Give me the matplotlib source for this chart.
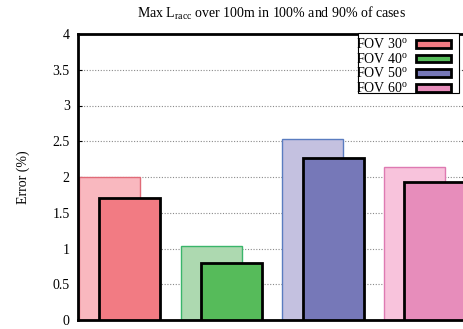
import matplotlib.pyplot as plt
from matplotlib.patches import Rectangle
import numpy as np

plt.rcParams['font.family'] = ['Liberation Serif', 'DejaVu Serif']
plt.rcParams['mathtext.fontset'] = 'custom'
plt.rcParams['mathtext.rm'] = 'Liberation Serif'

fov = ['FOV 30$^{\\rm o}$', 'FOV 40$^{\\rm o}$', 'FOV 50$^{\\rm o}$', 'FOV 60$^{\\rm o}$']
err100 = [2.00, 1.03, 2.53, 2.14]
err90 = [1.71, 0.80, 2.27, 1.93]

front_col = ['#f27b83', '#56bb5a', '#7678b8', '#e78dbb']
back_col = ['#f9b8bf', '#add9b0', '#c4c1e0', '#f8c3dc']
back_edge = ['#e06b78', '#3ab56a', '#5a7cc0', '#de7ab2']

fig = plt.figure(figsize=(4.64, 3.29), dpi=100)
ax = fig.add_axes([78/464, 9/329, 388/464, 286/329])

x = np.arange(len(fov))
w = 0.6
ax.bar(x - 0.3, err100, width=w, align='edge', color=back_col,
       edgecolor=back_edge, linewidth=1, zorder=2)
bars = ax.bar(x - 0.1, err90, width=w, align='edge', color=front_col,
              edgecolor='black', linewidth=2, zorder=3)

ax.set_xlim(-0.31, 3.505)
ax.set_ylim(0, 4)
ax.set_yticks(np.arange(0, 4.01, 0.5))
ax.set_yticklabels(['0', '0.5', '1', '1.5', '2', '2.5', '3', '3.5', '4'])
ax.set_xticks([])
ax.tick_params(axis='y', direction='in', length=3, right=True, labelsize=10, pad=6)
ax.yaxis.grid(True, linestyle=(0, (1, 1.5)), color='#8a8a8a', linewidth=0.8, zorder=0)
ax.set_axisbelow(True)
for s in ax.spines.values():
    s.set_linewidth(2)

ax.set_ylabel('Error (%)', fontsize=10, labelpad=16)
ax.set_title('Max L$_{\\rm racc}$ over 100m in 100% and 90% of cases',
             fontsize=10, pad=12)

# legend box drawn separately (gnuplot style: text flush left, gap at right)
ax.add_patch(Rectangle((358/464, 1 - 93/329), 101/464, 60/329,
                       transform=fig.transFigure, facecolor='white',
                       edgecolor='black', linewidth=0.8, zorder=5, clip_on=False))
leg = ax.legend(bars, fov, loc='upper right', bbox_to_anchor=(451/464, 1 - 37/329),
                bbox_transform=fig.transFigure, markerfirst=False, fontsize=10,
                frameon=False, borderaxespad=0, borderpad=0,
                labelspacing=0.0, handlelength=2.5, handleheight=0.5,
                handletextpad=0.6)
leg.set_zorder(6)

plt.savefig('out.png', dpi=100)
